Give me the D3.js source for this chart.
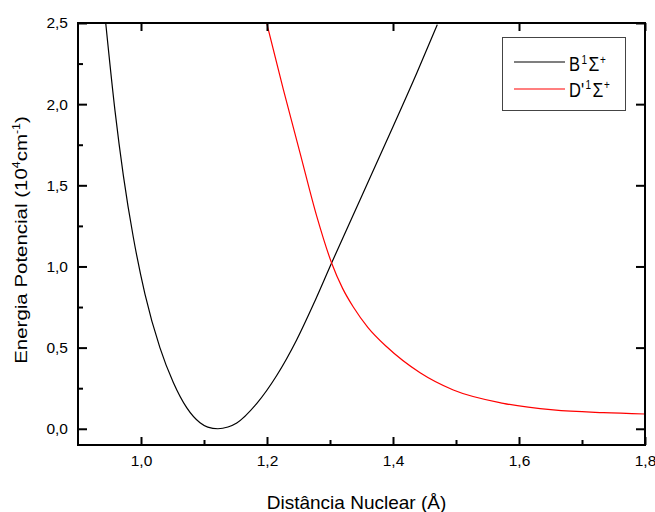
<!DOCTYPE html>
<html>
<head>
<meta charset="utf-8">
<script src="https://d3js.org/d3.v7.min.js"></script>
<style>
  body { margin: 0; background: #fff; }
  svg { display: block; }
  text { font-family: Arial, "Liberation Sans", sans-serif; fill: #000; }
</style>
</head>
<body>
<div id="chart"></div>
<script>
// values
var bX = [0.944, 0.9587, 0.972, 0.9878, 1.0063, 1.030, 1.0513, 1.0725, 1.0937, 1.106, 1.122, 1.138, 1.152, 1.1836, 1.2154, 1.247, 1.2735, 1.3027, 1.3476, 1.4005, 1.4376, 1.4703];
var bY = [2.5, 1.96, 1.56, 1.18, 0.83, 0.50, 0.285, 0.130, 0.037, 0.010, 0.0, 0.011, 0.036, 0.155, 0.328, 0.547, 0.765, 1.023, 1.41, 1.865, 2.19, 2.49];
var dX = [1.1995, 1.226, 1.2524, 1.2789, 1.3027, 1.32, 1.337, 1.36, 1.390, 1.443, 1.4957, 1.575, 1.6545, 1.734, 1.80];
var dY = [2.50, 2.09, 1.70, 1.31, 1.02, 0.865, 0.75, 0.625, 0.505, 0.345, 0.239, 0.157, 0.116, 0.099, 0.091];
var xTicks = [1.0, 1.2, 1.4, 1.6, 1.8];
var xMinor = [1.1, 1.3, 1.5, 1.7];
var yTicks = [0.0, 0.5, 1.0, 1.5, 2.0, 2.5];
var yMinor = [0.25, 0.75, 1.25, 1.75, 2.25];

var W = 655, H = 512;
var pl = 78, pr = 645, pt = 23, pb = 445;

var svg = d3.select("#chart").append("svg")
	.attr("width", W)
	.attr("height", H);

var x = d3.scaleLinear().domain([0.9, 1.8]).range([pl, pr]);
var y = d3.scaleLinear().domain([-0.1, 2.5]).range([pb, pt]);

var fmt = function(d) { return d3.format(".1f")(d).replace(".", ","); };

svg.append("clipPath").attr("id", "clip")
	.append("rect")
	.attr("x", pl).attr("y", pt)
	.attr("width", pr - pl).attr("height", pb - pt);

// curves
var line = d3.line()
	.x(d => x(d[0]))
	.y(d => y(d[1]))
	.curve(d3.curveMonotoneX);

svg.append("path")
	.datum(d3.zip(bX, bY))
	.attr("clip-path", "url(#clip)")
	.attr("fill", "none")
	.attr("stroke", "#000")
	.attr("stroke-width", 1.2)
	.attr("d", line);

svg.append("path")
	.datum(d3.zip(dX, dY))
	.attr("clip-path", "url(#clip)")
	.attr("fill", "none")
	.attr("stroke", "#ff0000")
	.attr("stroke-width", 1.2)
	.attr("d", line);

// axes (ticks inside)
function styleAxis(g) {
	g.select(".domain").remove();
	g.selectAll(".tick line").attr("stroke", "#000").attr("stroke-width", 2);
	g.selectAll("text").style("font-size", "15.5px");
}

svg.append("g")
	.attr("transform", "translate(0," + pb + ")")
	.call(d3.axisBottom(x).tickValues(xTicks).tickSize(-8).tickPadding(10).tickFormat(fmt))
	.call(styleAxis);
svg.append("g")
	.attr("transform", "translate(0," + pb + ")")
	.call(d3.axisBottom(x).tickValues(xMinor).tickSize(-5).tickFormat(""))
	.call(styleAxis);
svg.append("g")
	.attr("transform", "translate(0," + pt + ")")
	.call(d3.axisTop(x).tickValues(xTicks).tickSize(-8).tickFormat(""))
	.call(styleAxis);

svg.append("g")
	.attr("transform", "translate(" + pl + ",0)")
	.call(d3.axisLeft(y).tickValues(yTicks).tickSize(-9).tickPadding(10).tickFormat(fmt))
	.call(styleAxis);
svg.append("g")
	.attr("transform", "translate(" + pl + ",0)")
	.call(d3.axisLeft(y).tickValues(yMinor).tickSize(-5).tickFormat(""))
	.call(styleAxis);
svg.append("g")
	.attr("transform", "translate(" + pr + ",0)")
	.call(d3.axisRight(y).tickValues(yTicks).tickSize(-9).tickFormat(""))
	.call(styleAxis);

// frame
svg.append("rect")
	.attr("x", pl).attr("y", pt)
	.attr("width", pr - pl).attr("height", pb - pt)
	.attr("fill", "none")
	.attr("stroke", "#000")
	.attr("stroke-width", 2);

// titles
svg.append("text")
	.attr("x", 356.5).attr("y", 509)
	.attr("text-anchor", "middle")
	.style("font-size", "19px")
	.text("Distância Nuclear (Å)");

var yt = svg.append("text")
	.attr("transform", "translate(27,240) rotate(-90) scale(1.24,1)")
	.attr("text-anchor", "middle")
	.style("font-size", "16.5px");
yt.append("tspan").text("Energia Potencial (10");
yt.append("tspan").attr("dy", -7).style("font-size", "10px").text("4");
yt.append("tspan").attr("dy", 7).text("cm");
yt.append("tspan").attr("dy", -7).style("font-size", "10px").text("-1");
yt.append("tspan").attr("dy", 7).text(")");

// legend
svg.append("rect")
	.attr("x", 502.5).attr("y", 37.5)
	.attr("width", 123).attr("height", 73)
	.attr("fill", "#fff")
	.attr("stroke", "#444")
	.attr("stroke-width", 1);

var legend = [
	{ name: "B", color: "#000" },
	{ name: "D'", color: "#ff0000" }
];
legend.forEach(function(d, i) {
	var ly = 62 + i * 27;
	svg.append("line")
		.attr("x1", 514).attr("x2", 565)
		.attr("y1", ly).attr("y2", ly)
		.attr("stroke", d.color)
		.attr("stroke-width", 1.2);
	var t = svg.append("text")
		.attr("transform", "translate(569," + (ly + 9 - i * 1.5) + ") scale(1,1.2)")
		.style("font-size", "16.5px");
	t.append("tspan").text(d.name);
	t.append("tspan").attr("dx", 1.5).attr("dy", -6).style("font-size", "10px").text("1");
	t.append("tspan").attr("dx", 1.5).attr("dy", 6).style("font-size", "17.5px").text("Σ");
	t.append("tspan").attr("dx", 0.5).attr("dy", -6).style("font-size", "10px").text("+");
});
</script>
</body>
</html>
